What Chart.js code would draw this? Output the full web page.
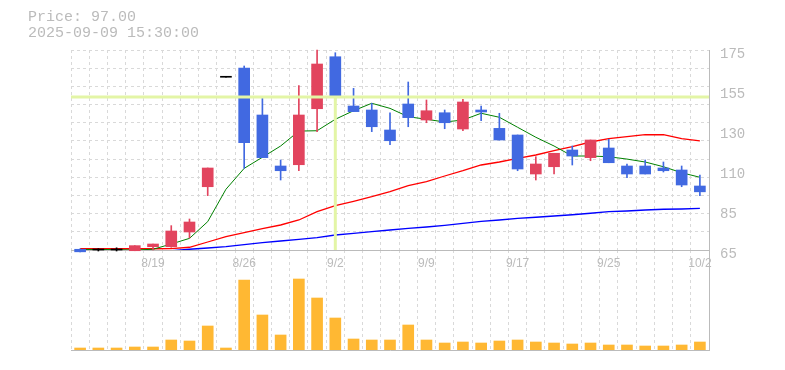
<!DOCTYPE html>
<html><head><meta charset="utf-8">
<script src="https://cdn.jsdelivr.net/npm/chart.js@4.4.1/dist/chart.umd.min.js"></script>
<style>
html,body{margin:0;padding:0;background:#fff;}
#wrap{position:relative;width:785px;height:370px;overflow:hidden;background:#fff;}
#wrap canvas{position:absolute;left:0;top:0;}
#info{position:absolute;left:28px;top:10px;font:15px/16px "Liberation Mono",monospace;color:#bbb;white-space:pre;z-index:3}
</style></head><body>
<div id="wrap">
<canvas id="vol" width="785" height="370"></canvas>
<canvas id="price" width="785" height="370"></canvas>
<div id="info">Price: 97.00
2025-09-09 15:30:00</div>
</div>
<script>
const dates = ['8/13','8/14','8/15','8/18','8/19','8/20','8/21','8/22','8/25','8/26','8/27','8/28','8/29','9/1','9/2','9/3','9/4','9/5','9/8','9/9','9/10','9/11','9/12','9/16','9/17','9/18','9/19','9/22','9/24','9/25','9/26','9/29','9/30','10/1','10/2'];
const tickDates = ['8/19','8/26','9/2','9/9','9/17','9/25','10/2'];
const openP  = [65.4,64.45,64.45,64.6,66.8,66.8,74.9,99.8,160.0,165.1,139.25,111.2,111.9,142.7,171.3,144.2,142.0,131.0,145.3,136.5,140.5,131.55,142.0,131.9,128.25,106.8,110.8,120.0,115.8,121.1,111.2,111.2,110.1,109.0,100.2];
const highP  = [65.6,65.7,66.2,67.4,68.3,78.4,82.05,110.1,160.0,166.2,149.2,114.5,155.4,175.0,173.5,153.9,145.7,140.5,157.4,147.5,142.0,147.9,144.2,140.2,128.25,116.3,118.2,122.2,125.5,125.9,112.3,114.5,113.4,111.2,106.25];
const lowP   = [63.9,64.45,64.45,64.6,65.0,66.5,71.6,94.9,160.0,109.9,115.8,103.5,108.6,130.1,147.1,141.1,130.1,122.9,132.8,135.0,131.7,130.6,136.1,125.5,108.6,103.5,106.8,111.75,114.1,113.0,104.8,106.8,107.9,99.8,94.9];
const closeP = [64.0,64.45,64.45,67.4,68.3,75.45,80.4,110.1,160.0,124.0,115.8,108.6,139.25,167.3,148.8,141.1,132.8,125.1,137.8,141.6,135.0,146.4,140.9,125.5,109.55,112.3,118.2,116.7,125.5,113.0,106.8,106.8,108.6,100.75,97.0];
const ma5  = [65.3,65.3,65.2,65.0,65.4,68.3,71.4,80.6,98.4,109.9,116.0,122.2,130.4,130.6,136.9,141.6,145.7,142.9,138.3,136.9,135.4,136.5,140.2,138.0,132.5,127.0,122.2,116.7,116.7,116.3,115.0,113.4,110.8,107.5,105.0];
const ma25 = [65.7,65.7,65.7,65.7,65.7,65.8,66.5,69.4,72.3,74.5,76.7,78.75,81.5,86.1,89.4,91.8,94.3,97.1,100.4,102.6,105.7,108.6,111.75,113.4,115.4,117.25,119.6,121.8,124.4,126.2,127.3,128.4,128.4,126.2,125.0];
const ma75 = [null,null,null,null,null,64.6,65.4,66.1,66.8,67.9,69.0,69.95,70.9,71.8,73.25,74.2,75.1,76.0,76.9,77.65,78.6,79.7,80.8,81.5,82.4,83.0,83.7,84.4,85.2,86.1,86.45,87.0,87.4,87.55,87.9];
const volume = [20,20,20,30,30,100,90,240,20,700,350,150,710,520,320,110,100,100,250,100,70,80,70,90,100,80,70,60,70,50,50,40,40,50,80];
const priceTickValues = [65,87,109,131,153,175];
const priceTickLabels = ['65','85','110','130','155','175'];
const crossIndex = 14;
const crossPrice = 149.15;

const UP = '#e2445e', DOWN = '#4169e1', FLAT = '#000000';
const GRID = '#d9d9d9', AXIS = '#bbbbbb', TXT = '#bbbbbb';
const candleColor = dates.map((d,i) => closeP[i] > openP[i] ? UP : (closeP[i] < openP[i] ? DOWN : FLAT));

const crosshair = {
  id:'crosshair',
  afterDatasetsDraw(chart){
    const {ctx, chartArea:a, scales} = chart;
    const x = scales.x.getPixelForValue(crossIndex);
    const y = scales.y.getPixelForValue(crossPrice);
    ctx.save();
    ctx.strokeStyle = '#e3f5a6';
    ctx.lineWidth = 3;
    ctx.beginPath();
    ctx.moveTo(a.left, y); ctx.lineTo(a.right, y);
    ctx.moveTo(x, y); ctx.lineTo(x, a.bottom);
    ctx.stroke();
    ctx.restore();
  }
};

new Chart(document.getElementById('vol'), {
  type:'bar',
  data:{labels:dates, datasets:[{data:volume, backgroundColor:'#ffb833', barThickness:11, borderWidth:0}]},
  options:{
    responsive:false, animation:false, events:[],
    layout:{padding:{left:71, right:0, top:250, bottom:20}},
    plugins:{legend:{display:false}, tooltip:{enabled:false}},
    scales:{
      x:{offset:true, grid:{offset:true, color:GRID, drawTicks:false}, border:{display:true, color:AXIS, dash:[3,3]},
         ticks:{display:false}, afterFit(s){s.height=0;}},
      y:{position:'right', min:0, max:1000, grid:{display:false}, ticks:{display:false},
         border:{display:true, color:AXIS}, afterFit(s){s.width=76;}}
    }
  }
});

new Chart(document.getElementById('price'), {
  type:'bar',
  data:{labels:dates, datasets:[
    {label:'body', data:dates.map((d,i)=>[openP[i], closeP[i]]), backgroundColor:candleColor, barThickness:11, grouped:false, minBarLength:1, borderWidth:0, clip:false, yAxisID:'y'},
    {label:'wick', data:dates.map((d,i)=>[lowP[i], highP[i]]), backgroundColor:candleColor, barThickness:1, grouped:false, borderWidth:0, clip:false, yAxisID:'y'},
    {type:'line', label:'ma5', data:ma5, borderColor:'#008000', borderWidth:1, pointRadius:0, tension:0, yAxisID:'y'},
    {type:'line', label:'ma25', data:ma25, borderColor:'#ff0000', borderWidth:1.3, pointRadius:0, tension:0, yAxisID:'y'},
    {type:'line', label:'ma75', data:ma75, borderColor:'#0000ff', borderWidth:1.3, pointRadius:0, tension:0, yAxisID:'y'}
  ]},
  options:{
    responsive:false, animation:false, events:[],
    layout:{padding:{left:71, right:0, top:50, bottom:100}},
    plugins:{legend:{display:false}, tooltip:{enabled:false}},
    scales:{
      x:{offset:true, grid:{offset:true, color:GRID, drawTicks:false}, border:{display:true, color:AXIS, dash:[3,3]},
         ticks:{autoSkip:false, maxRotation:0, padding:6, color:TXT, font:{family:'"Liberation Sans", Arial, sans-serif', size:12},
           callback:(v,i)=> tickDates.includes(dates[i]) ? dates[i] : ''},
         afterFit(s){s.height=20;}},
      y:{position:'left', min:65, max:175, ticks:{display:false, stepSize:10}, grid:{color:GRID, drawTicks:false},
         border:{display:false, dash:[3,3]}, afterFit(s){s.width=0;}},
      yl:{position:'right', min:65, max:175, grid:{display:false, drawTicks:false}, border:{display:true, color:AXIS},
         afterBuildTicks(s){ s.ticks = priceTickValues.map(v=>({value:v})); },
         ticks:{color:TXT, padding:11, labelOffset:4, font:{family:'"Liberation Mono", monospace', size:14},
           callback:(v,i)=> priceTickLabels[i]},
         afterFit(s){s.width=76;}}
    }
  },
  plugins:[crosshair]
});
</script>
</body></html>
